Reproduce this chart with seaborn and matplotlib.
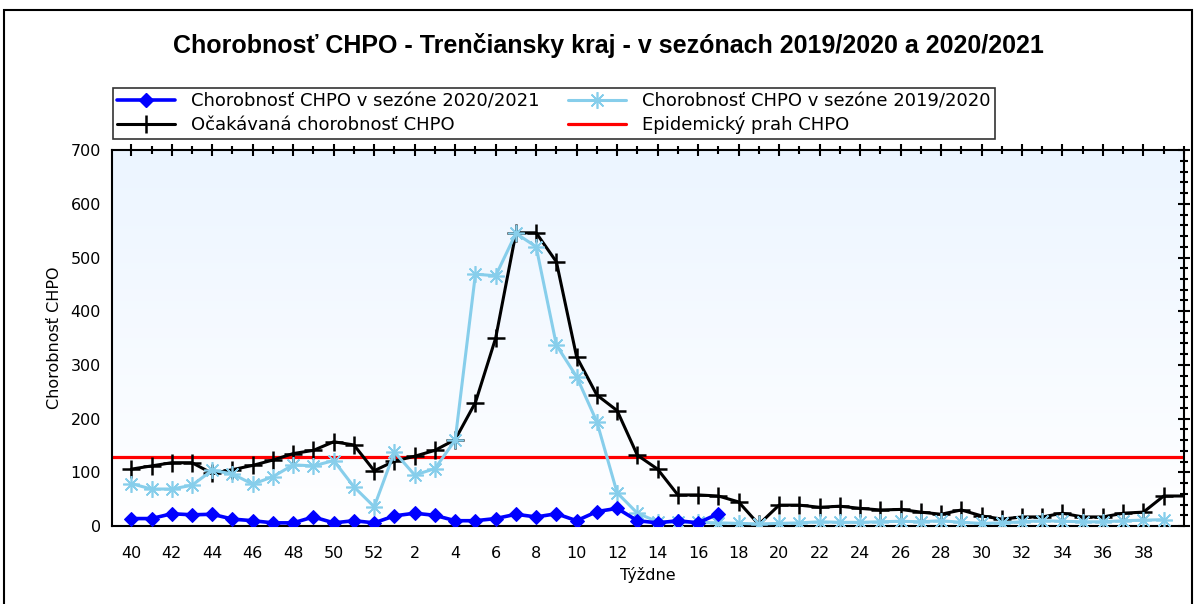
import numpy as np
import pandas as pd
import matplotlib
matplotlib.use('Agg')
import matplotlib.pyplot as plt
from matplotlib.patches import Rectangle
from matplotlib.ticker import MultipleLocator
import seaborn as sns

# týždne sezóny (40..52, 1..39)
tyzdne = list(range(40, 53)) + list(range(1, 40))

# chorobnosť v sezóne 2020/2021 (do 17. týždňa)
sezona_2021 = [14, 14, 23, 21, 22, 13, 10, 6, 6, 17, 6, 10, 6,
               19, 24, 20, 10, 10, 14, 22, 17, 23, 10, 27, 33, 10, 6, 10, 6, 23]

# chorobnosť v sezóne 2019/2020
sezona_1920 = [79, 69, 69, 76, 104, 97, 78, 92, 114, 112, 122, 73, 36,
               138, 95, 107, 160, 469, 466, 545, 520, 337, 278, 194, 62, 24, 8,
               8, 7, 6, 5, 4, 5, 6, 8, 7, 7, 8, 9, 8, 10, 7, 5, 6, 8, 10, 9, 8, 8,
               10, 11, 12]

# očakávaná chorobnosť (posledná hodnota = pokračovanie do konca osi)
ocakavana = [106, 112, 118, 118, 98, 105, 113, 123, 135, 141, 157, 151, 103,
             121, 130, 141, 161, 230, 350, 546, 546, 492, 315, 244, 215, 132, 106,
             58, 58, 56, 45, 3, 39, 39, 35, 37, 33, 30, 31, 26, 22, 30, 19, 13, 17,
             17, 24, 17, 17, 24, 26, 56, 56]

prah = 128

df_2021 = pd.DataFrame({'idx': range(len(sezona_2021)), 'val': sezona_2021})
df_1920 = pd.DataFrame({'idx': range(len(sezona_1920)), 'val': sezona_1920})
df_ocak = pd.DataFrame({'idx': range(len(ocakavana)), 'val': ocakavana})

sns.set_style('white')
plt.rcParams['font.family'] = ['DejaVu Sans']
plt.rcParams['text.color'] = 'black'
plt.rcParams['axes.labelcolor'] = 'black'
plt.rcParams['xtick.color'] = 'black'
plt.rcParams['ytick.color'] = 'black'

fig = plt.figure(figsize=(11.97, 6.04), dpi=100)
ax = fig.add_axes([0.0936, 0.129, 0.8955, 0.6225])

# jemný modrý gradient pozadia
grad = np.linspace(0, 1, 256).reshape(-1, 1)
ax.imshow(grad, extent=[0, 1, 0, 1], transform=ax.transAxes, aspect='auto',
          cmap=matplotlib.colors.LinearSegmentedColormap.from_list('bg', ['#ffffff', '#ecf5ff']),
          origin='lower', zorder=0)

ax.axhline(prah, color='#ff0000', lw=2.3, zorder=2)

sns.lineplot(data=df_ocak, x='idx', y='val', ax=ax, color='black', lw=2.2,
             marker='+', markersize=13, markeredgewidth=1.8, markeredgecolor='black',
             markevery=list(range(len(ocakavana) - 1)), zorder=3)
sns.lineplot(data=df_1920, x='idx', y='val', ax=ax, color='#87ceeb', lw=2.2,
             marker=(8, 2, 0), markersize=12, markeredgewidth=1.2, markeredgecolor='#87ceeb',
             zorder=4)
sns.lineplot(data=df_2021, x='idx', y='val', ax=ax, color='#0000ff', lw=2.6,
             marker='D', markersize=7, markeredgecolor='#0000ff', zorder=5)

ax.set_xlim(-0.95, 52)
ax.set_ylim(0, 700)
ax.xaxis.set_minor_locator(MultipleLocator(1))
ax.yaxis.set_major_locator(MultipleLocator(100))
ax.yaxis.set_minor_locator(MultipleLocator(20))
ax.set_xticks(range(0, len(tyzdne), 2))
ax.set_xticklabels([str(t) for t in tyzdne[::2]])
ax.tick_params(which='both', direction='inout', top=True, right=True,
               labeltop=False, labelright=False, width=1.5, labelsize=11.5, color='black')
ax.tick_params(which='major', length=9)
ax.tick_params(which='minor', length=6)
ax.tick_params(axis='x', pad=10)
for s in ax.spines.values():
    s.set_color('black')
    s.set_linewidth(1.5)

ax.set_xlabel('Týždne', fontsize=11.5, labelpad=4)
ax.set_ylabel('Chorobnosť CHPO', fontsize=11.5, labelpad=6)

fig.text(0.508, 0.925, 'Chorobnosť CHPO - Trenčiansky kraj - v sezónach 2019/2020 a 2020/2021',
         ha='center', va='center', fontsize=18, fontweight='bold', family='Liberation Sans')

h_2021 = plt.Line2D([], [], color='#0000ff', lw=2.6, marker='D', markersize=7)
h_1920 = plt.Line2D([], [], color='#87ceeb', lw=2.2, marker=(8, 2, 0), markersize=12, markeredgewidth=1.2)
h_ocak = plt.Line2D([], [], color='black', lw=2.2, marker='+', markersize=13, markeredgewidth=1.8)
h_prah = plt.Line2D([], [], color='#ff0000', lw=2.3)
leg = fig.legend([h_2021, h_ocak, h_1920, h_prah],
                 ['Chorobnosť CHPO v sezóne 2020/2021', 'Očakávaná chorobnosť CHPO',
                  'Chorobnosť CHPO v sezóne 2019/2020', 'Epidemický prah CHPO'],
                 ncol=2, loc='upper left', bbox_to_anchor=(0.094, 0.855),
                 fontsize=13, frameon=True, fancybox=False, handlelength=3.2,
                 borderpad=0.25, labelspacing=0.35, columnspacing=1.6, handletextpad=0.9,
                 borderaxespad=0)
leg.get_frame().set_edgecolor('black')
leg.get_frame().set_linewidth(1.2)

fig.patches.append(Rectangle((4 / 1197, -0.02), 1188 / 1197, 1 - 10 / 604 + 0.02,
                             transform=fig.transFigure, fill=False, edgecolor='black', lw=1.5))

fig.savefig('out.png', dpi=100)
